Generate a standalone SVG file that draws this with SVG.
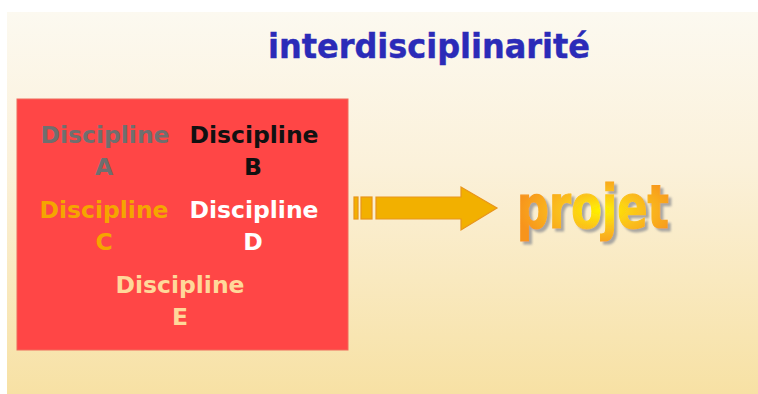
<svg xmlns="http://www.w3.org/2000/svg" width="758" height="394" viewBox="0 0 758 394">
<defs>
<linearGradient id="bg" x1="0" y1="0" x2="0" y2="1">
<stop offset="0" stop-color="#fcf9f0"/>
<stop offset="0.4" stop-color="#fbf1da"/>
<stop offset="1" stop-color="#f7e1a4"/>
</linearGradient>
<radialGradient id="pg" cx="0.55" cy="0.55" r="0.55">
<stop offset="0" stop-color="#fff200"/>
<stop offset="0.45" stop-color="#fbc31a"/>
<stop offset="1" stop-color="#f7941d"/>
</radialGradient>
<filter id="shadow" x="-10%" y="-10%" width="125%" height="130%">
<feGaussianBlur in="SourceAlpha" stdDeviation="0.8" result="b"/>
<feOffset in="b" dx="3" dy="3" result="o"/>
<feFlood flood-color="#9a9a9a" flood-opacity="0.85"/>
<feComposite in2="o" operator="in" result="s"/>
<feMerge><feMergeNode in="s"/><feMergeNode in="SourceGraphic"/></feMerge>
</filter>
</defs>
<style>
.d{font-family:"DejaVu Sans","Verdana",sans-serif;font-weight:bold;font-size:23.5px;text-anchor:middle}
.t{font-family:"DejaVu Sans Condensed","DejaVu Sans",sans-serif;font-stretch:condensed;font-weight:bold}
</style>
<rect x="0" y="0" width="758" height="394" fill="#ffffff"/>
<rect x="7" y="12" width="751" height="382" fill="url(#bg)"/>
<g id="title">
<text class="t" x="268" y="58" font-size="34" fill="#2b2bb8" stroke="#2b2bb8" stroke-width="0.4" textLength="322" lengthAdjust="spacingAndGlyphs">interdisciplinarité</text>
</g>
<g id="box">
<rect x="17" y="99" width="331" height="251" fill="#ff4646" stroke="#f06a5a" stroke-width="1"/>
<text class="d" x="105" y="143" fill="#6f6f6f">Discipline</text>
<text class="d" x="104" y="175" fill="#6f6f6f">A</text>
<text class="d" x="254" y="143" fill="#111111">Discipline</text>
<text class="d" x="253" y="175" fill="#111111">B</text>
<text class="d" x="104" y="218" fill="#f5a500">Discipline</text>
<text class="d" x="104" y="250" fill="#f5a500">C</text>
<text class="d" x="254" y="218" fill="#ffffff">Discipline</text>
<text class="d" x="253" y="250" fill="#ffffff">D</text>
<text class="d" x="180" y="293" fill="#ffd89a">Discipline</text>
<text class="d" x="180" y="325" fill="#ffd89a">E</text>
</g>
<g id="connectors">
<g fill="#f2b000" stroke="#e8951c" stroke-width="1.2">
<rect x="354" y="197" width="4" height="22"/>
<rect x="361" y="197" width="11" height="22"/>
<path d="M376 197 L461 197 L461 187 L497 208 L461 230 L461 219 L376 219 Z"/>
</g>
</g>
<g id="projet">
<text class="t" x="517" y="228" font-size="60" fill="url(#pg)" stroke="url(#pg)" stroke-width="1.2" textLength="152" lengthAdjust="spacingAndGlyphs" filter="url(#shadow)">projet</text>
</g>
</svg>
